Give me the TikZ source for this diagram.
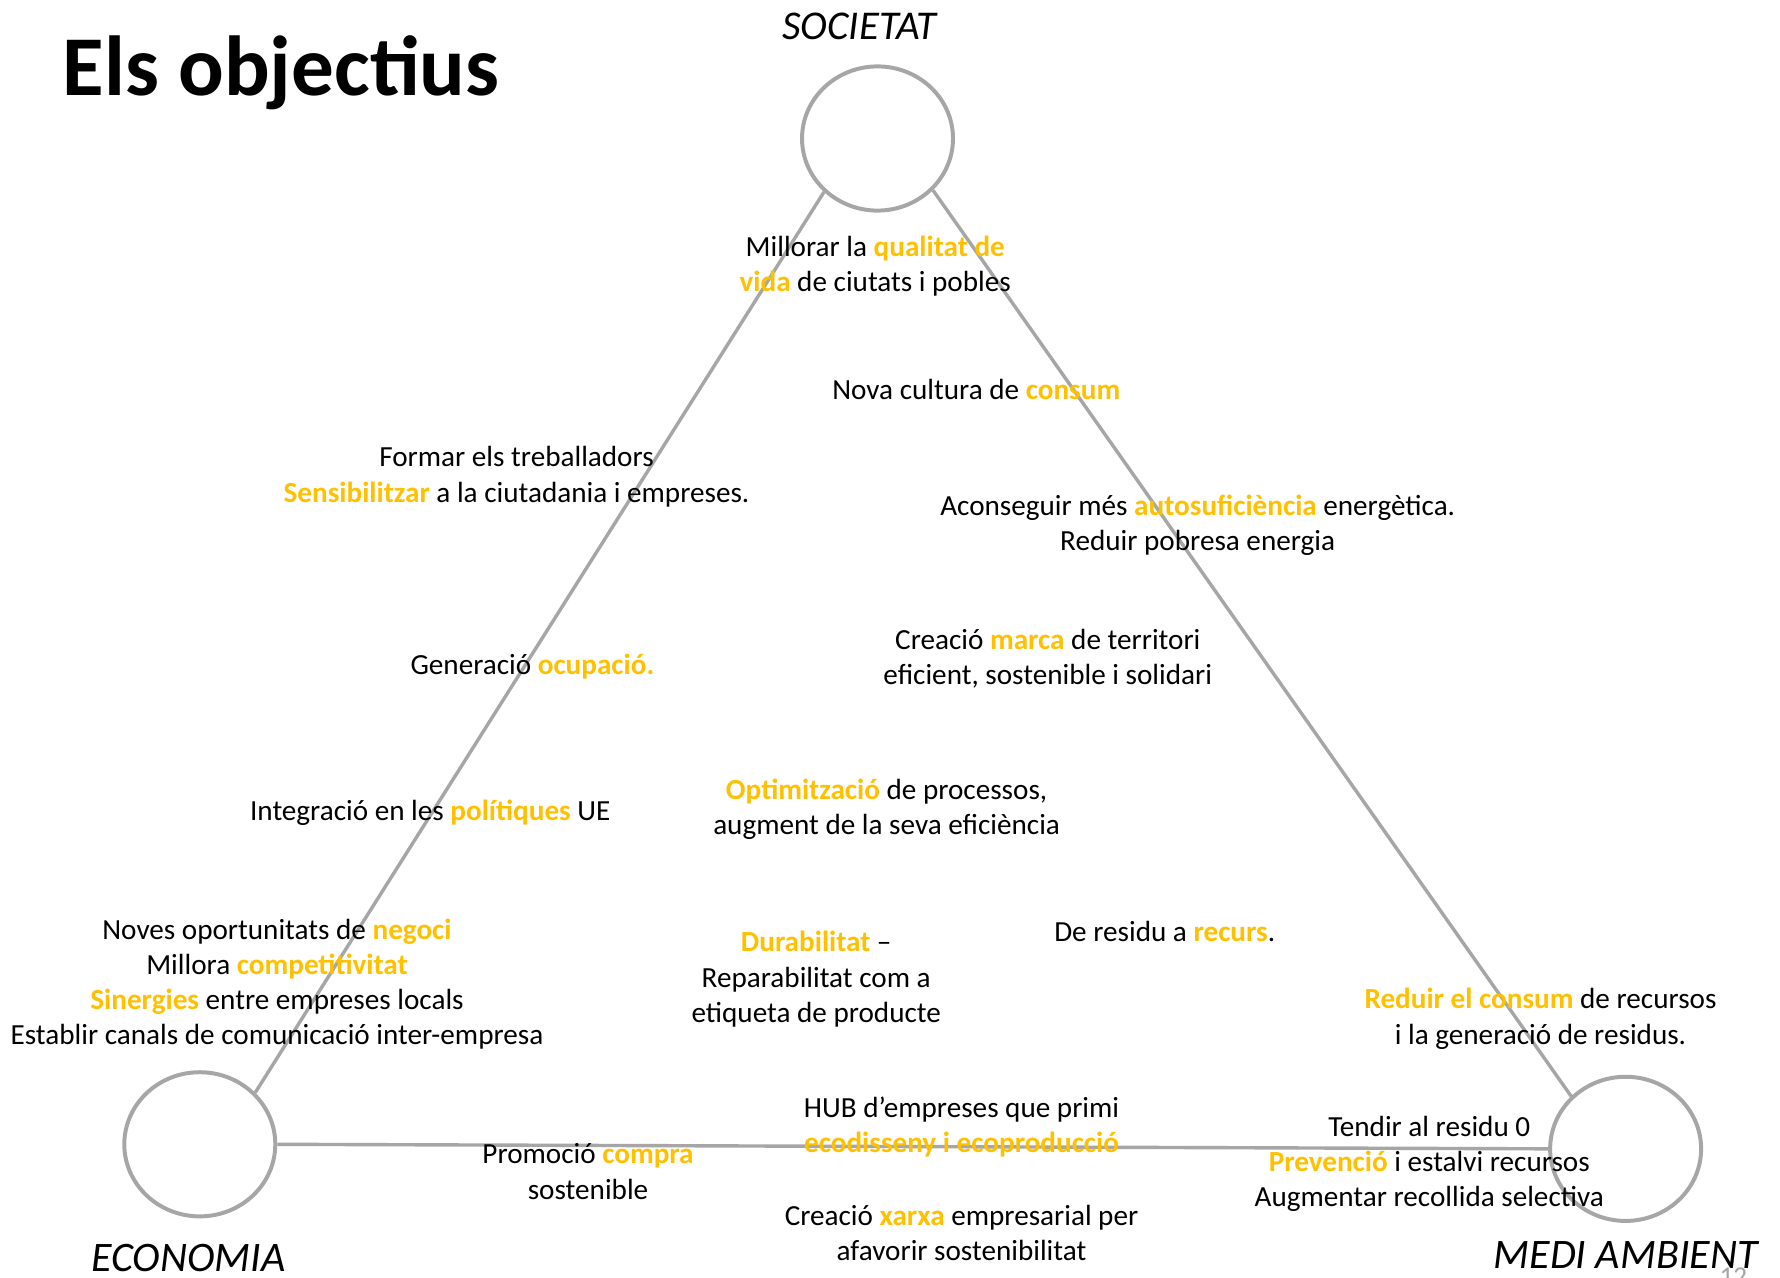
\documentclass[tikz,border=0pt]{standalone}
\usepackage{fontspec}
\setmainfont{Carlito}
\usetikzlibrary{shapes.geometric}
\definecolor{hl}{HTML}{FFC000}
\definecolor{ln}{HTML}{A6A6A6}
\newcommand\yel[1]{\textbf{\textcolor{hl}{#1}}}
\begin{document}
\begin{tikzpicture}[x=1pt,y=-1pt,
  txt/.style={font=\fontsize{25.7}{31}\selectfont, align=center, inner sep=0pt, text=black, yshift=-2.5pt},
  corner/.style={draw=ln, line width=3.5pt, ellipse, minimum width=133pt, minimum height=127pt, inner sep=0pt},
  tri/.style={draw=ln, line width=3pt},
  lbl/.style={font=\fontsize{37}{44}\selectfont\itshape, inner sep=0pt, anchor=base}]
\fill[white] (0,0) rectangle (1568,1125);
\clip (0,0) rectangle (1568,1125);
\node[font=\fontsize{75}{80}\selectfont\bfseries, anchor=base west, inner sep=0pt] (title) at (55,84) {Els objectius};
\node[corner] (soc) at (773,122) {};
\node[corner] (eco) at (176,1008) {};
\node[corner] (env) at (1432,1012) {};
\draw[tri] (soc.-135) -- (eco.43);
\draw[tri] (soc.-43) -- (env.136);
\draw[tri] (eco.east) -- (env.west);
\node[lbl, font=\fontsize{36}{44}\selectfont\itshape] (socl) at (757,35) {SOCIETAT};
\node[lbl] (ecol) at (166,1120) {ECONOMIA};
\node[lbl] (envl) at (1432,1117) {MEDI AMBIENT};
\node[txt] (t1) at (771,232) {Millorar la \yel{qualitat de}\\\yel{vida} de ciutats i pobles};
\node[txt] (t2) at (860,341) {Nova cultura de \yel{consum}};
\node[txt] (t3) at (455,417.5) {Formar els treballadors\\\yel{Sensibilitzar} a la ciutadania i empreses.};
\node[txt] (t4) at (1055,460.5) {Aconseguir més \yel{autosuficiència} energètica.\\Reduir pobresa energia};
\node[txt] (t5) at (923,577.5) {Creació \yel{marca} de territori\\eficient, sostenible i solidari};
\node[txt] (t6) at (469,585) {Generació \yel{ocupació.}};
\node[txt] (t7) at (781,710.5) {\yel{Optimització} de processos,\\augment de la seva eficiència};
\node[txt] (t8) at (379,713) {Integració en les \yel{polítiques} UE};
\node[txt] (t9) at (244,864.5) {Noves oportunitats de \yel{negoci}\\Millora \yel{competitivitat}\\\yel{Sinergies} entre empreses locals\\Establir canals de comunicació inter-empresa};
\node[txt] (t10) at (719,860) {\yel{Durabilitat} –\\Reparabilitat com a\\etiqueta de producte};
\node[txt] (t11) at (1026,818) {De residu a \yel{recurs}.};
\node[txt] (t12) at (1357,895) {\yel{Reduir el consum} de recursos\\i la generació de residus.};
\node[txt] (t13) at (847,990) {HUB d’empreses que primi\\\yel{ecodisseny i ecoproducció}};
\node[txt] (t14) at (518,1029.5) {Promoció \yel{compra}\\sostenible};
\node[txt] (t15) at (847,1083.5) {Creació \yel{xarxa} empresarial per\\afavorir sostenibilitat};
\node[txt] (t16) at (1259,1023) {Tendir al residu 0\\\yel{Prevenció} i estalvi recursos\\Augmentar recollida selectiva};
\node[font=\fontsize{24}{28}\selectfont, text=ln, anchor=north, inner sep=0pt] (pg) at (1527,1117) {12};
\end{tikzpicture}
\end{document}
